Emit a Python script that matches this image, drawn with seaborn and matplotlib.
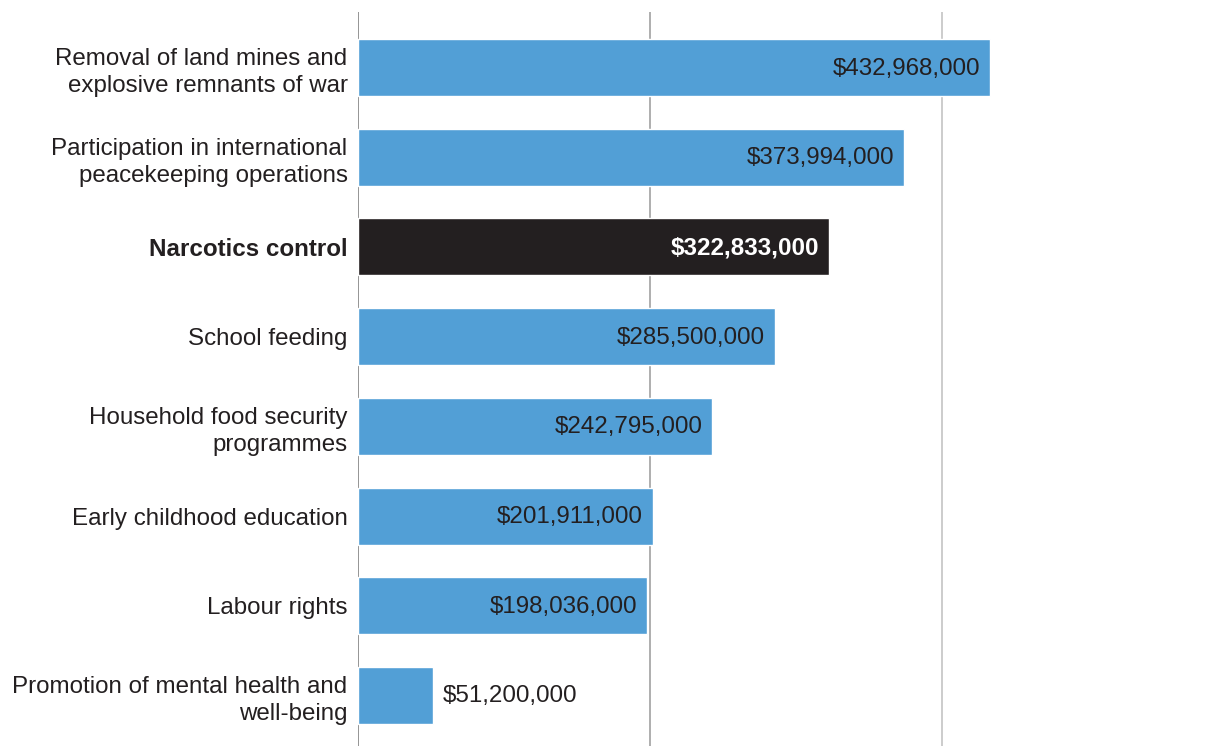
import matplotlib
matplotlib.use('Agg')
import matplotlib.pyplot as plt
import seaborn as sns
import pandas as pd

categories = [
    'Removal of land mines and\nexplosive remnants of war',
    'Participation in international\npeacekeeping operations',
    'Narcotics control',
    'School feeding',
    'Household food security\nprogrammes',
    'Early childhood education',
    'Labour rights',
    'Promotion of mental health and\nwell-being',
]
values = [432968000, 373994000, 322833000, 285500000, 242795000, 201911000, 198036000, 51200000]
highlight = 'Narcotics control'
grid_ticks = [0, 200000000, 400000000]

BLUE = '#529fd6'
DARK = '#231f20'
FS = 17.4

sns.set_theme(style='white')
plt.rcParams['font.family'] = ['Liberation Sans', 'DejaVu Sans']

df = pd.DataFrame({'category': categories, 'value': values})
df['group'] = ['hl' if c == highlight else 'base' for c in categories]

fig = plt.figure(figsize=(12.22, 7.46), dpi=100)
ax = fig.add_axes([358 / 1222, 0, 864 / 1222, 1 - 12 / 746])

# reference lines drawn first so bars sit on top
grid_colors = ['#8c8c8c', '#a8a8a8', '#c8c8c8']
for t, c in zip(grid_ticks, grid_colors):
    ax.axvline(t, color=c, lw=1.3, zorder=0)

sns.barplot(data=df, x='value', y='category', hue='group',
            palette={'base': BLUE, 'hl': DARK}, orient='h',
            width=0.635, legend=False, ax=ax, saturation=1, zorder=2)

ax.set_xlim(0, 592000000)
ax.set_ylim(7.563, -0.619)
ax.set_xlabel('')
ax.set_ylabel('')
ax.set_xticks([])
for s in ax.spines.values():
    s.set_visible(False)

ax.tick_params(axis='y', length=0, pad=7.5, labelsize=FS, labelcolor=DARK)
for lbl in ax.get_yticklabels():
    lbl.set_linespacing(1.32)
    if lbl.get_text() == highlight:
        lbl.set_fontweight('bold')

for i, (cat, v) in enumerate(zip(categories, values)):
    txt = f'${v:,.0f}'
    if cat == highlight:
        ax.annotate(txt, (v, i), xytext=(-10, -1), textcoords='offset pixels',
                    ha='right', va='center', fontsize=FS, color='white',
                    fontweight='bold', zorder=3)
    elif v < 100000000:
        ax.annotate(txt, (v, i), xytext=(10, -1), textcoords='offset pixels',
                    ha='left', va='center', fontsize=FS, color=DARK, zorder=3)
    else:
        ax.annotate(txt, (v, i), xytext=(-10, -1), textcoords='offset pixels',
                    ha='right', va='center', fontsize=FS, color=DARK, zorder=3)

fig.savefig('out.png', dpi=100)
